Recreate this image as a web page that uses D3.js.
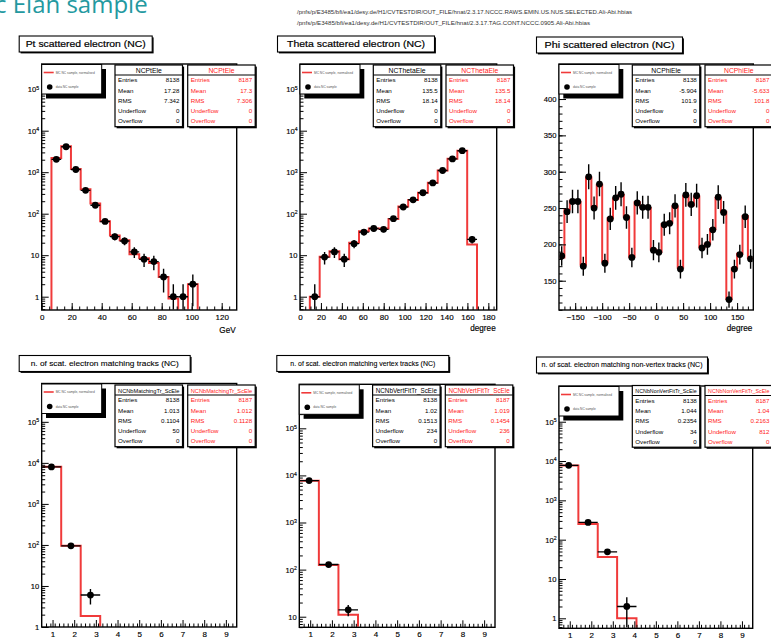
<!DOCTYPE html>
<html>
<head>
<meta charset="utf-8">
<script src="https://cdn.jsdelivr.net/npm/d3@7"></script>
<style>
  body { margin: 0; background: #fff; }
  svg { display: block; }
</style>
</head>
<body>
<svg id="c" width="771" height="640"></svg>
<script>
// ---------------- histogram contents (one value per bin) ----------------
// data (black points) and Monte Carlo (red outline)
const ptData    = [0, 2040, 4100, 1160, 365, 160, 65, 28, 22, 12, 8, 7, 3, 1, 1, 2, 0, 0, 0, 0];
const ptMC      = [0, 2200, 4200, 1200, 390, 176, 66, 30, 23, 10.5, 8.5, 6.5, 3.0, 0.9, 0, 2, 0, 0, 0, 0];

const thetaData = [0, 1, 9, 12, 8, 19, 36, 44, 42, 76, 145, 216, 320, 550, 1100, 2090, 3300, 24, 0, 0];
const thetaMC   = [0, 1, 9.2, 12.5, 8, 20, 38, 44, 44, 75, 150, 215, 320, 560, 1100, 2100, 3300, 18, 0, 0];

const phiData = [184, 245, 259, 259, 170, 293, 250, 283, 174, 235, 264, 269, 237, 182, 257, 251, 251, 192,
                 189, 227, 229, 253, 166, 268, 255, 267, 195, 200, 220, 265, 244, 124, 166, 186, 238, 180];
const phiMC   = [182, 248, 260, 258, 172, 292, 252, 282, 176, 236, 263, 268, 238, 183, 258, 252, 250, 193,
                 190, 228, 230, 252, 168, 267, 254, 266, 196, 201, 221, 264, 245, 125, 167, 187, 239, 181];

const nMatchData   = [7987, 95, 6, 0, 0, 0, 0, 0, 0, 0];
const nMatchMC     = [8040, 95, 1.85, 0, 0, 0, 0, 0, 0, 0];
const nVertData    = [7762, 128, 14, 0, 0, 0, 0, 0, 0, 0];
const nVertMC      = [7700, 125, 11, 0, 0, 0, 0, 0, 0, 0];
const nNonVertData = [7778, 275, 49, 2, 0, 0, 0, 0, 0, 0];
const nNonVertMC   = [7700, 250, 36, 1.0, 0, 0, 0, 0, 0, 0];

// ---------------- statistics boxes ----------------
const statLabels = ['Entries', 'Mean', 'RMS', 'Underflow', 'Overflow'];
const ptStatsData       = ['8138', '17.28', '7.342', '0', '0'];
const ptStatsMC         = ['8187', '17.3', '7.306', '0', '0'];
const thetaStatsData    = ['8138', '135.5', '18.14', '0', '0'];
const thetaStatsMC      = ['8187', '135.5', '18.14', '0', '0'];
const phiStatsData      = ['8138', '-5.904', '101.9', '0', '0'];
const phiStatsMC        = ['8187', '-5.633', '101.8', '0', '0'];
const nMatchStatsData   = ['8138', '1.013', '0.1104', '50', '0'];
const nMatchStatsMC     = ['8187', '1.012', '0.1128', '0', '0'];
const nVertStatsData    = ['8138', '1.02', '0.1513', '234', '0'];
const nVertStatsMC      = ['8187', '1.019', '0.1454', '236', '0'];
const nNonVertStatsData = ['8138', '1.044', '0.2354', '34', '0'];
const nNonVertStatsMC   = ['8187', '1.04', '0.2163', '812', '0'];

// ---------------- texts ----------------
const panelTitles = [
  'Pt scattered electron (NC)',
  'Theta scattered electron (NC)',
  'Phi scattered electron (NC)',
  'n. of scat. electron matching tracks (NC)',
  'n. of scat. electron matching vertex tracks (NC)',
  'n. of scat. electron matching  non-vertex  tracks (NC)'
];
const histNames = ['NCPtEle', 'NCThetaEle', 'NCPhiEle',
                   'NCNbMatchingTr_ScEle', 'NCNbVertFitTr_ScEle', 'NCNbNonVertFitTr_ScEle'];
const axisTitles = ['GeV', 'degree', 'degree', '', '', ''];
const legendLabels = ['MC NC sample, normalised', 'data NC sample'];
const fileLines = [
  '/pnfs/p/E3485/bfi/ea1/desy.de/H1/CVTESTDIR/OUT_FILE/hnat/2.3.17.NCCC.RAWS.EMIN.US.NUS.SELECTED.Ali-Abi.hbias',
  '/pnfs/p/E3485/bfi/ea1/desy.de/H1/CVTESTDIR/OUT_FILE/hnat/2.3.17.TAG.CONT.NCCC.0905.Ali-Abi.hbias'
];
const pageTitle = 'c Elan sample';

// ---------------- tick values ----------------
const ptTicks    = [0, 20, 40, 60, 80, 100, 120];
const thetaTicks = [0, 20, 40, 60, 80, 100, 120, 140, 160, 180];
const phiTicks   = [-150, -100, -50, 0, 50, 100, 150];
const nTicks     = [1, 2, 3, 4, 5, 6, 7, 8, 9];
const phiYTicks  = [150, 200, 250, 300, 350, 400];

// ---------------- drawing ----------------
const FONT = '"Liberation Sans", Arial, Helvetica, sans-serif';
const RED = '#f03a3a';
const svg = d3.select('#c');

// page heading (runs off the top edge of the page) and file names
svg.append('text').attr('x', -5).attr('y', 12.5)
  .attr('font-family', '"Open Sans", "Noto Sans", sans-serif').attr('font-size', 24)
  .attr('fill', '#2499a0').text(pageTitle);
fileLines.forEach((t, i) => {
  svg.append('text').attr('x', 297).attr('y', 13.5 + i * 11.5)
    .attr('font-family', FONT).attr('font-size', 4.6).attr('fill', '#333')
    .attr('textLength', i === 0 ? 335 : 293).attr('lengthAdjust', 'spacingAndGlyphs')
    .text(t);
});

function range(a, b, s) {
  const out = [];
  for (let v = a; v <= b + 1e-9; v += s) out.push(+v.toFixed(6));
  return out;
}
function logMinor(lo, hi) {
  const out = [];
  for (let k = Math.floor(Math.log10(lo)); k <= Math.ceil(Math.log10(hi)); k++) {
    for (let m = 2; m <= 9; m++) {
      const v = m * Math.pow(10, k);
      if (v > lo && v < hi) out.push(v);
    }
  }
  return out;
}
function logMajor(lo, hi) {
  const out = [];
  for (let k = Math.ceil(Math.log10(lo) - 1e-9); Math.pow(10, k) <= hi; k++) out.push(Math.pow(10, k));
  return out;
}

const panels = [
  { x: 41.7, y: 64, w: 195, h: 246, xDomain: [0, 130], log: true, yDomain: [0.478, 404700],
    data: ptData, mc: ptMC, xTicks: ptTicks, xMinorStep: 5, sData: ptStatsData, sMC: ptStatsMC,
    titleY: 36, titleW: 133, titleFs: 9.8, titleLen: 120, statY: 65 },
  { x: 300, y: 64, w: 196.7, h: 246, xDomain: [0, 188], log: true, yDomain: [0.478, 404700],
    data: thetaData, mc: thetaMC, xTicks: thetaTicks, xMinorStep: 5, sData: thetaStatsData, sMC: thetaStatsMC,
    titleY: 36, titleW: 157, titleFs: 9.8, titleLen: 138, statY: 65 },
  { x: 559, y: 64, w: 194.3, h: 246, xDomain: [-180, 180], log: false, yDomain: [109.7, 448.2],
    data: phiData, mc: phiMC, xTicks: phiTicks, xMinorStep: 10, yTicks: phiYTicks, yMinorStep: 10,
    sData: phiStatsData, sMC: phiStatsMC, titleY: 37, titleW: 146, titleFs: 9.8, titleLen: 130, statY: 65 },
  { x: 41.7, y: 383.5, w: 195, h: 243.5, xDomain: [0.5, 9.5], log: true, yDomain: [1, 860000],
    data: nMatchData, mc: nMatchMC, xTicks: nTicks, xMinorStep: 0.2, sData: nMatchStatsData, sMC: nMatchStatsMC,
    titleY: 355.5, titleW: 171, titleFs: 7.2, titleLen: 148, statY: 385 },
  { x: 299.3, y: 384.3, w: 195.7, h: 243, xDomain: [0.5, 9.5], log: true, yDomain: [5.96, 860000],
    data: nVertData, mc: nVertMC, xTicks: nTicks, xMinorStep: 0.2, sData: nVertStatsData, sMC: nVertStatsMC,
    titleY: 355.5, titleW: 172, titleFs: 7.0, titleLen: 145, statY: 385 },
  { x: 559, y: 386, w: 193.7, h: 242.3, xDomain: [0.5, 9.5], log: true, yDomain: [0.557, 810000],
    data: nNonVertData, mc: nNonVertMC, xTicks: nTicks, xMinorStep: 0.2, sData: nNonVertStatsData, sMC: nNonVertStatsMC,
    titleY: 357, titleW: 171, titleFs: 7.0, titleLen: 161, statY: 385.5 }
];

function statBox(bx, by, name, vals, color) {
  const w = 67.5, h = 61.7;
  const g = svg.append('g');
  g.append('rect').attr('x', bx + 1.6).attr('y', by + 1.6).attr('width', w).attr('height', h).attr('fill', '#000');
  g.append('rect').attr('x', bx).attr('y', by).attr('width', w).attr('height', h)
    .attr('fill', '#fff').attr('stroke', '#000').attr('stroke-width', 1.2);
  g.append('line').attr('x1', bx).attr('x2', bx + w).attr('y1', by + 10).attr('y2', by + 10)
    .attr('stroke', '#000').attr('stroke-width', 1);
  const head = g.append('text').attr('x', bx + w / 2).attr('y', by + 7.6).attr('text-anchor', 'middle')
    .attr('font-family', FONT).attr('font-size', 6.8).attr('fill', color).text(name);
  const len = head.node().getComputedTextLength();
  if (len > w - 6) head.attr('font-size', 6.8 * (w - 6) / len);
  statLabels.forEach((lab, j) => {
    const yy = by + 17.4 + j * 10.25;
    g.append('text').attr('x', bx + 3).attr('y', yy).attr('font-family', FONT).attr('font-size', 6.2)
      .attr('fill', color).text(lab);
    g.append('text').attr('x', bx + w - 3).attr('y', yy).attr('text-anchor', 'end').attr('font-family', FONT)
      .attr('font-size', 6.2).attr('fill', color).text(vals[j]);
  });
}

function styleAxis(ax, fs) {
  ax.attr('font-family', FONT).attr('font-size', fs);
  ax.select('.domain').remove();
  ax.selectAll('line').attr('stroke', '#000').attr('stroke-width', 1);
  ax.selectAll('text').attr('fill', '#000').attr('stroke', '#000').attr('stroke-width', 0.15);
}

panels.forEach((p, i) => {
  const g = svg.append('g').attr('transform', `translate(${p.x},${p.y})`);
  const x = d3.scaleLinear().domain(p.xDomain).range([0, p.w]);
  const y = (p.log ? d3.scaleLog() : d3.scaleLinear()).domain(p.yDomain).range([p.h, 0]);
  const ymin = p.yDomain[0];
  const yy = v => (v > ymin ? y(v) : p.h + 5);
  const n = p.data.length;
  const bw = (p.xDomain[1] - p.xDomain[0]) / n;
  const edge = k => p.xDomain[0] + k * bw;

  g.append('rect').attr('width', p.w).attr('height', p.h).attr('fill', '#fff');
  const cid = 'clip' + i;
  g.append('clipPath').attr('id', cid).append('rect')
    .attr('x', 0.6).attr('y', 0).attr('width', p.w - 1.2).attr('height', p.h - 0.6);
  const inner = g.append('g').attr('clip-path', `url(#${cid})`);

  // axes (ticks point into the frame)
  const yMaj = p.log ? logMajor(p.yDomain[0], p.yDomain[1]) : p.yTicks;
  const yMin = p.log ? logMinor(p.yDomain[0], p.yDomain[1]) : range(110, 440, p.yMinorStep);
  const xMin = range(p.xDomain[0], p.xDomain[1], p.xMinorStep).filter(v => v > p.xDomain[0] && v < p.xDomain[1]);

  const xa = g.append('g').attr('transform', `translate(0,${p.h})`)
    .call(d3.axisBottom(x).tickValues(p.xTicks).tickSize(-7).tickPadding(4).tickFormat(d3.format('d')));
  styleAxis(xa, 8);
  const xm = g.append('g').attr('transform', `translate(0,${p.h})`)
    .call(d3.axisBottom(x).tickValues(xMin).tickSize(-3.5).tickFormat(''));
  styleAxis(xm, 8);

  const ya = g.append('g')
    .call(d3.axisLeft(y).tickValues(yMaj).tickSize(-7).tickPadding(2.5));
  styleAxis(ya, 7.6);
  if (p.log) {
    ya.selectAll('text').each(function (d) {
      const t = d3.select(this);
      const k = Math.round(Math.log10(d));
      t.text(null);
      if (k === 0) t.text('1');
      else if (k === 1) t.text('10');
      else {
        t.append('tspan').text('10');
        t.append('tspan').attr('dy', '-0.5em').attr('font-size', '0.68em').text(k);
      }
    });
  } else {
    ya.selectAll('text').text(d => d3.format('d')(d));
  }
  const ym = g.append('g').call(d3.axisLeft(y).tickValues(yMin).tickSize(-3.5).tickFormat(''));
  styleAxis(ym, 7.6);

  // Monte Carlo outline
  const pts = [];
  p.mc.forEach((v, k) => { pts.push([x(edge(k)), yy(v)]); pts.push([x(edge(k + 1)), yy(v)]); });
  inner.append('path').attr('d', d3.line()(pts)).attr('fill', 'none')
    .attr('stroke', RED).attr('stroke-width', 2).attr('stroke-linejoin', 'miter');

  // data points with statistical errors
  const bins = p.data.map((v, k) => ({ v, k })).filter(d => d.v > ymin);
  const cx = d => x(edge(d.k) + bw / 2);
  inner.selectAll('line.ev').data(bins).join('line').attr('class', 'ev')
    .attr('x1', cx).attr('x2', cx)
    .attr('y1', d => yy(d.v - Math.sqrt(d.v))).attr('y2', d => y(d.v + Math.sqrt(d.v)))
    .attr('stroke', '#000').attr('stroke-width', 1.4);
  inner.selectAll('line.eh').data(bins).join('line').attr('class', 'eh')
    .attr('x1', d => x(edge(d.k))).attr('x2', d => x(edge(d.k + 1)))
    .attr('y1', d => y(d.v)).attr('y2', d => y(d.v))
    .attr('stroke', '#000').attr('stroke-width', 1.4);
  inner.selectAll('circle').data(bins).join('circle')
    .attr('cx', cx).attr('cy', d => y(d.v)).attr('r', 3.4).attr('fill', '#000');

  // frame
  g.append('rect').attr('width', p.w).attr('height', p.h).attr('fill', 'none')
    .attr('stroke', '#000').attr('stroke-width', 1.4);

  // axis title
  if (axisTitles[i]) {
    g.append('text').attr('x', p.w - 1).attr('y', p.h + (axisTitles[i] === 'GeV' ? 23 : 21))
      .attr('text-anchor', 'end').attr('font-family', FONT).attr('font-size', 8.2)
      .attr('fill', '#000').attr('stroke', '#000').attr('stroke-width', 0.15).text(axisTitles[i]);
  }

  // legend
  const lg = g.append('g').attr('transform', 'translate(0,0.5)');
  lg.append('rect').attr('x', 4.3).attr('y', 4.5).attr('width', 60).attr('height', 29.5).attr('fill', '#000');
  lg.append('rect').attr('width', 60).attr('height', 29.5).attr('fill', '#fff')
    .attr('stroke', '#000').attr('stroke-width', 1);
  lg.append('line').attr('x1', 2).attr('x2', 12).attr('y1', 8).attr('y2', 8)
    .attr('stroke', RED).attr('stroke-width', 1.6);
  lg.append('text').attr('x', 14).attr('y', 9.2).attr('font-family', FONT).attr('font-size', 3.2)
    .attr('fill', '#555').text(legendLabels[0]);
  lg.append('circle').attr('cx', 8).attr('cy', 22.5).attr('r', 2.8).attr('fill', '#000');
  lg.append('text').attr('x', 14).attr('y', 23.5).attr('font-family', FONT).attr('font-size', 3.2)
    .attr('fill', '#555').text(legendLabels[1]);

  // statistics boxes
  statBox(p.x + 73.3, p.statY, histNames[i], p.sData, '#000');
  statBox(p.x + 146, p.statY, histNames[i], p.sMC, '#ff1a1a');

  // title box
  const tx = p.x - 22.5;
  svg.append('rect').attr('x', tx + 1.4).attr('y', p.titleY + 1.4).attr('width', p.titleW).attr('height', 16).attr('fill', '#000');
  svg.append('rect').attr('x', tx).attr('y', p.titleY).attr('width', p.titleW).attr('height', 16)
    .attr('fill', '#fff').attr('stroke', '#000').attr('stroke-width', 1.1);
  svg.append('text').attr('x', tx + p.titleW / 2).attr('y', p.titleY + 8).attr('dy', '0.35em')
    .attr('text-anchor', 'middle').attr('font-family', FONT).attr('font-size', p.titleFs)
    .attr('textLength', p.titleLen).attr('lengthAdjust', 'spacingAndGlyphs')
    .attr('fill', '#000').attr('stroke', '#000').attr('stroke-width', i < 3 ? 0.2 : 0.1)
    .text(panelTitles[i]);
});
</script>
</body>
</html>
